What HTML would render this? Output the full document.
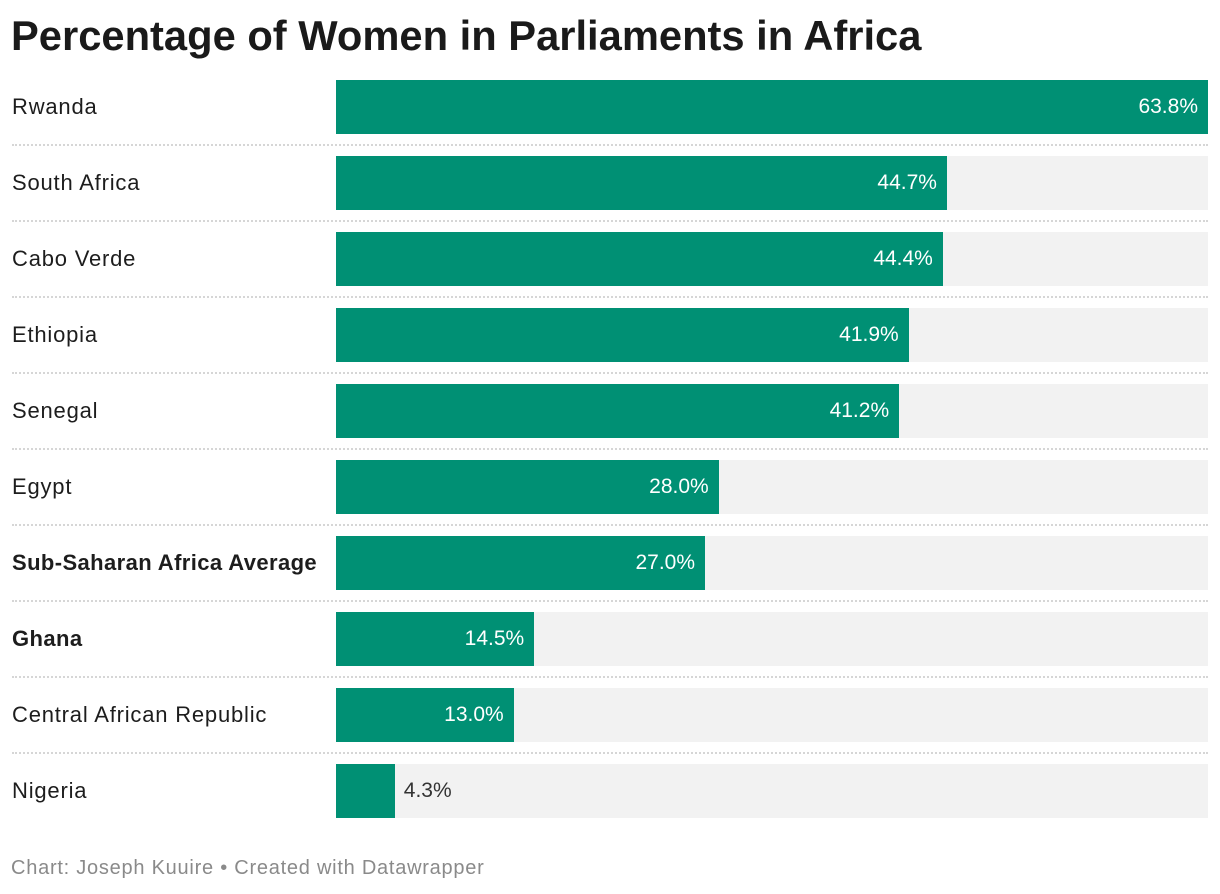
<!DOCTYPE html>
<html><head><meta charset="utf-8"><style>
body{margin:0;background:#fff;width:1220px;height:894px;overflow:hidden;font-family:"Liberation Sans",sans-serif;position:relative}
#title{position:absolute;left:11px;top:12px;font-size:41.7px;font-weight:bold;color:#1a1a1a;letter-spacing:0px;margin:0}
#footer{position:absolute;left:11px;top:857px;font-size:20px;letter-spacing:0.75px;color:#8a8a8a}
.lbl{position:absolute;left:12px;font-size:22px;letter-spacing:0.8px;color:#1d1d1d;line-height:54px}
.bg{position:absolute;left:336px;width:872px;height:54px;background:#f2f2f2}
.bar{position:absolute;left:336px;height:54px;background:#009074}
.val{position:absolute;font-size:21px;line-height:54px}
.sep{position:absolute;left:12px;width:1196px;border-top:2px dotted #d6d6d6;height:0}
</style></head><body>
<h1 id="title">Percentage of Women in Parliaments in Africa</h1>
<div id="chart"></div>
<div id="footer">Chart: Joseph Kuuire • Created with Datawrapper</div>
<script>
const categories=["Rwanda","South Africa","Cabo Verde","Ethiopia","Senegal","Egypt","Sub-Saharan Africa Average","Ghana","Central African Republic","Nigeria"];
const values=[63.8,44.7,44.4,41.9,41.2,28.0,27.0,14.5,13.0,4.3];
const boldCats=["Sub-Saharan Africa Average","Ghana"];
const maxV=63.8, x0=336, W=872, top0=80, pitch=76;
const xs=v=>v/maxV*W;
const c=document.getElementById('chart');
categories.forEach((cat,i)=>{
  const y=top0+i*pitch;
  const l=document.createElement('div');l.className='lbl';l.style.top=y+'px';l.textContent=cat;
  if(boldCats.includes(cat)){l.style.fontWeight='bold';l.style.letterSpacing='0.4px';}
  
  
  c.appendChild(l);
  const bg=document.createElement('div');bg.className='bg';bg.style.top=y+'px';
  
  
  c.appendChild(bg);
  const w=xs(values[i]);
  const b=document.createElement('div');b.className='bar';b.style.top=y+'px';b.style.width=w+'px';
  
  
  c.appendChild(b);
  const v=document.createElement('div');v.className='val';v.style.top=y+'px';v.textContent=values[i].toFixed(1)+'%';
  if(w>100){v.style.right=(1220-(x0+w)+10)+'px';v.style.color='#fff';}
  else{v.style.left=(x0+w+9)+'px';v.style.color='#333';}
  
  
  c.appendChild(v);
  if(i<categories.length-1){
    const s=document.createElement('div');s.className='sep';s.style.top=(y+64)+'px';
    
    
    c.appendChild(s);
  }
});
</script>
</body></html>
